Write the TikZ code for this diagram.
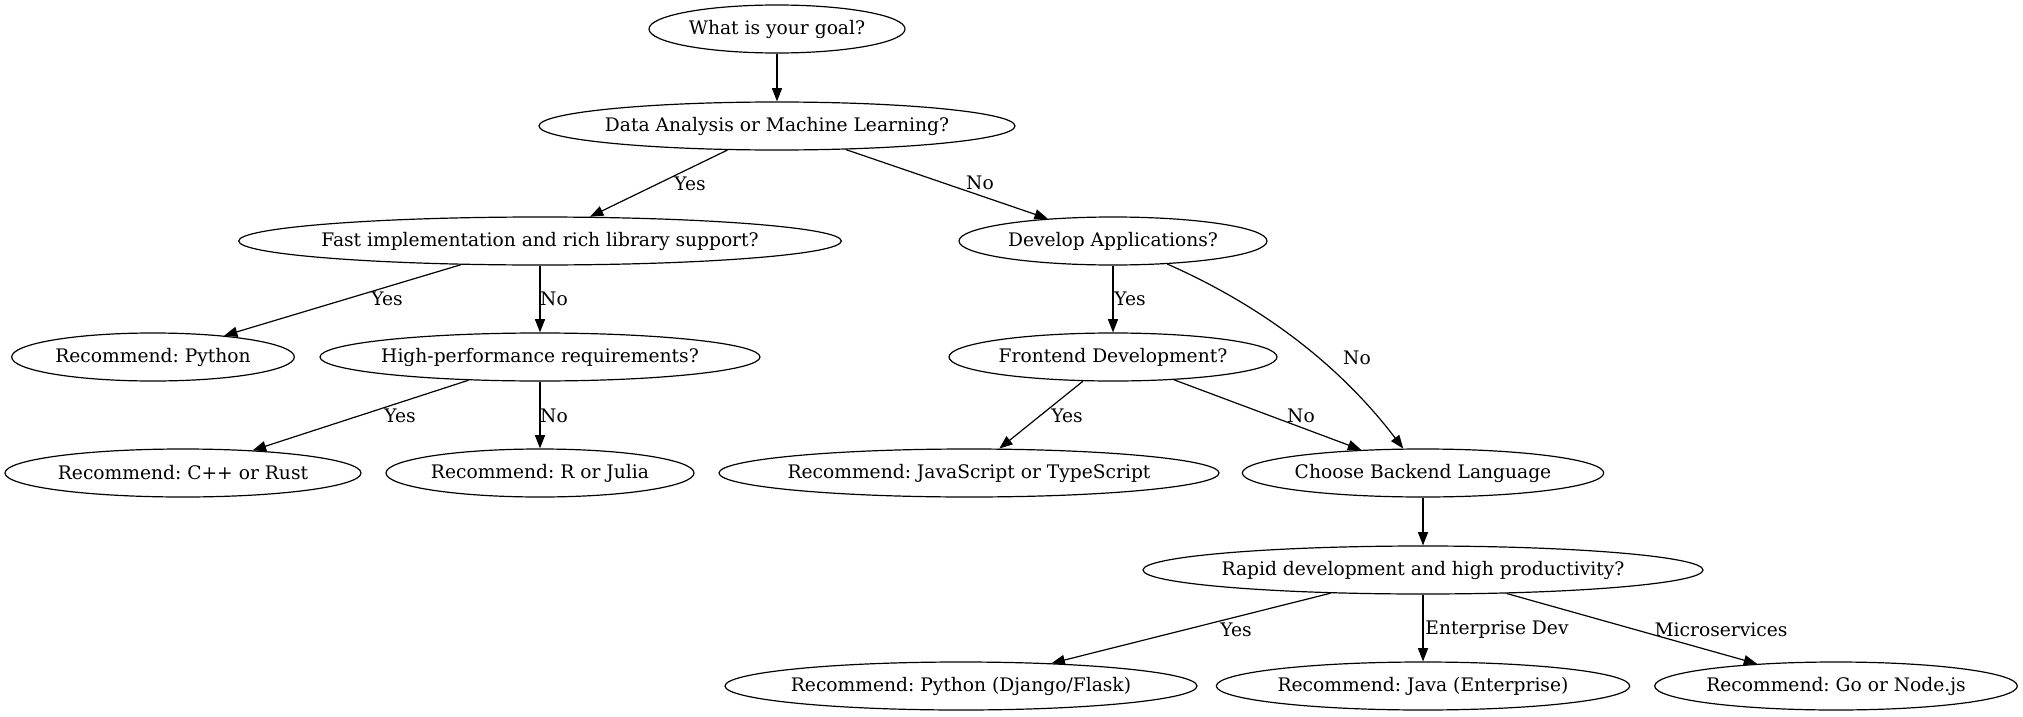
\documentclass[tikz,border=0pt]{standalone}
\usepackage{fontspec}
\setmainfont{DejaVu Serif}
\usetikzlibrary{shapes.geometric,arrows.meta}
\begin{document}
\frenchspacing
\begin{tikzpicture}[x=0.75pt,y=-0.75pt,
  every node/.style={font=\fontsize{14pt}{17pt}\selectfont},
  nd/.style={draw, ellipse, inner sep=0pt, minimum height=36pt, line width=0.9pt},
  lbl/.style={inner sep=0pt},
  conn/.style={line width=0.9pt, -{Triangle[length=10pt,width=7.6pt]}}]
\useasboundingbox (0,0) rectangle (2023,717);
% nodes
\node[nd, minimum width=192pt]   (goal)     at (777,29)   {\makebox[0pt]{What is your goal?}};
\node[nd, minimum width=357pt]   (data)     at (777,126)  {\makebox[0pt]{Data Analysis or Machine Learning?}};
\node[nd, minimum width=452pt]   (fast)     at (540,241)  {\makebox[0pt]{Fast implementation and rich library support?}};
\node[nd, minimum width=231pt]   (develop)  at (1113,241) {\makebox[0pt]{Develop Applications?}};
\node[nd, minimum width=212pt]   (python)   at (153,357)  {\makebox[0pt]{Recommend: Python}};
\node[nd, minimum width=330pt]   (highperf) at (540,357)  {\makebox[0pt]{High-performance requirements?}};
\node[nd, minimum width=246pt]   (frontend) at (1113,357) {\makebox[0pt]{Frontend Development?}};
\node[nd, minimum width=267pt]   (cpp)      at (183,473)  {\makebox[0pt]{Recommend: C++ or Rust}};
\node[nd, minimum width=231pt]   (rjulia)   at (540,473)  {\makebox[0pt]{Recommend: R or Julia}};
\node[nd, minimum width=375pt]   (jsts)     at (969,473)  {\makebox[0pt]{Recommend: JavaScript or TypeScript}};
\node[nd, minimum width=271pt]   (backend)  at (1423,473) {\makebox[0pt]{Choose Backend Language}};
\node[nd, minimum width=420pt]   (rapid)    at (1423,570) {\makebox[0pt]{Rapid development and high productivity?}};
\node[nd, minimum width=354pt]   (django)   at (961,686)  {\makebox[0pt]{Recommend: Python (Django/Flask)}};
\node[nd, minimum width=310pt]   (java)     at (1423,686) {\makebox[0pt]{Recommend: Java (Enterprise)}};
\node[nd, minimum width=272pt]   (go)       at (1836,686) {\makebox[0pt]{Recommend: Go or Node.js}};
% connectors
\draw[conn] (goal) -- (data);
\draw[conn] (data) -- (fast);
\draw[conn] (data) -- (develop);
\draw[conn] (fast) -- (python);
\draw[conn] (fast) -- (highperf);
\draw[conn] (develop) -- (frontend);
\draw[conn] (develop.-23) .. controls +(95,42) and +(-64,-84) .. (backend.129);
\draw[conn] (highperf) -- (cpp);
\draw[conn] (highperf) -- (rjulia);
\draw[conn] (frontend) -- (jsts);
\draw[conn] (frontend) -- (backend);
\draw[conn] (backend) -- (rapid);
\draw[conn] (rapid) -- (django);
\draw[conn] (rapid) -- (java);
\draw[conn] (rapid) -- (go);
% labels
\node[lbl] (l1)  at (690,184)  {Yes};
\node[lbl] (l2)  at (980,183)  {No};
\node[lbl] (l3)  at (387,299)  {Yes};
\node[lbl] (l4)  at (554,299)  {No};
\node[lbl] (l5)  at (1130,299) {Yes};
\node[lbl] (l6)  at (1357,358) {No};
\node[lbl] (l7)  at (400,416)  {Yes};
\node[lbl] (l8)  at (554,416)  {No};
\node[lbl] (l9)  at (1067,416) {Yes};
\node[lbl] (l10) at (1301,416) {No};
\node[lbl] (l11) at (1236,630) {Yes};
\node[lbl] (l12) at (1497,630) {Enterprise Dev};
\node[lbl] (l13) at (1721,630) {Microservices};
\end{tikzpicture}
\end{document}
